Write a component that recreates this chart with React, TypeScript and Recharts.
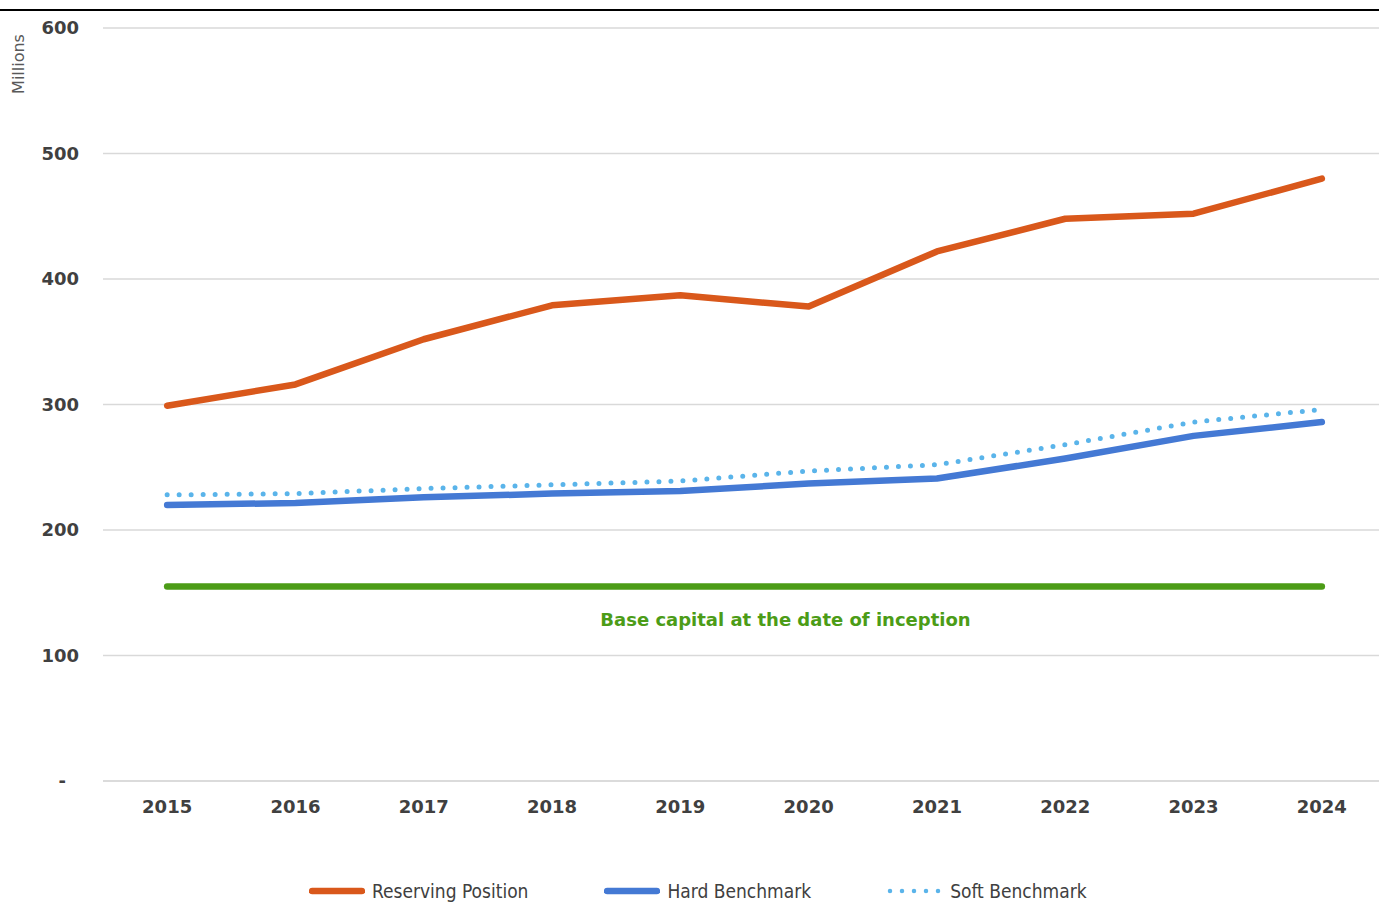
import React from 'react';
import { LineChart, Line, XAxis, YAxis, CartesianGrid, Legend, ReferenceLine } from 'recharts';

const years = ['2015', '2016', '2017', '2018', '2019', '2020', '2021', '2022', '2023', '2024'];
const reservingPosition = [299, 316, 352, 379, 387, 378, 422, 448, 452, 480];
const hardBenchmark = [220, 221.5, 226, 229, 231, 237, 241, 257, 275, 286];
const softBenchmark = [228, 229, 233, 236, 239, 247, 252, 268, 286, 296];
const baseCapital = [155, 155, 155, 155, 155, 155, 155, 155, 155, 155];
const yTicks = [0, 100, 200, 300, 400, 500, 600];
const baseCapitalLevel = 155;
const baseCapitalLabel = 'Base capital at the date of inception';
const yAxisTitle = 'Millions';

const data = years.map((year, i) => ({
  year,
  reserving: reservingPosition[i],
  hard: hardBenchmark[i],
  soft: softBenchmark[i],
  base: baseCapital[i],
}));

const ORANGE = '#D9581B';
const BLUE = '#4479D4';
const LIGHTBLUE = '#5AB4EA';
const GREEN = '#4C9C17';
const TEXT = '#404040';

const legendItems = [
  { key: 'reserving', label: 'Reserving Position', color: ORANGE, dash: undefined as string | undefined, width: 6.5 },
  { key: 'hard', label: 'Hard Benchmark', color: BLUE, dash: undefined as string | undefined, width: 6.5 },
  { key: 'soft', label: 'Soft Benchmark', color: LIGHTBLUE, dash: '0 12', width: 4.5 },
];

const YTick = (props: any) => {
  const { x, y, payload } = props;
  const isZero = payload.value === 0;
  return (
    <text
      x={isZero ? x - 13 : x}
      y={y}
      dy="0.36em"
      textAnchor="end"
      fill={TEXT}
      fontFamily="DejaVu Sans, Verdana, sans-serif"
      fontWeight="bold"
      fontSize={18}
    >
      {isZero ? '-' : payload.value}
    </text>
  );
};

const XTick = (props: any) => {
  const { x, y, payload } = props;
  return (
    <text
      x={x}
      y={y}
      dy="0.71em"
      textAnchor="middle"
      fill={TEXT}
      fontFamily="DejaVu Sans, Verdana, sans-serif"
      fontWeight="bold"
      fontSize={18}
    >
      {payload.value}
    </text>
  );
};

const YTitle = (props: any) => {
  const vb = props.viewBox || {};
  const cx = (vb.x || 0) + 18;
  const cy = (vb.y || 0) + 36;
  return (
    <text
      x={cx}
      y={cy}
      textAnchor="middle"
      dominantBaseline="central"
      transform={`rotate(-90 ${cx} ${cy})`}
      fill="#595959"
      fontFamily="DejaVu Sans, Verdana, sans-serif"
      fontSize={16}
    >
      {yAxisTitle}
    </text>
  );
};

const BaseLabel = (props: any) => {
  const vb = props.viewBox || {};
  const x = (vb.x || 0) + (vb.width || 0) / 2 + 41;
  const y = (vb.y || 0) + 33;
  return (
    <text
      x={x}
      y={y}
      dy="0.36em"
      textAnchor="middle"
      fill={GREEN}
      fontFamily="DejaVu Sans, Verdana, sans-serif"
      fontWeight="bold"
      fontSize={18}
    >
      {baseCapitalLabel}
    </text>
  );
};

const LegendContent = () => (
  <div
    style={{
      display: 'flex',
      alignItems: 'center',
      height: 22,
      paddingLeft: 309,
      gap: 76,
      fontFamily: '"DejaVu Sans Condensed", "Liberation Sans Narrow", sans-serif',
      fontSize: 19,
      color: TEXT,
      whiteSpace: 'nowrap',
    }}
  >
    {legendItems.map((item) => (
      <div key={item.key} style={{ display: 'flex', alignItems: 'center' }}>
        <svg width={56} height={10} style={{ marginRight: 7 }}>
          <line
            x1={3}
            y1={5}
            x2={53}
            y2={5}
            stroke={item.color}
            strokeWidth={item.width}
            strokeLinecap="round"
            strokeDasharray={item.dash}
          />
        </svg>
        <span>{item.label}</span>
      </div>
    ))}
  </div>
);

export default function App() {
  return (
    <div style={{ position: 'absolute', left: 0, top: 0, width: 1379, height: 902, overflow: 'hidden', background: '#fff' }}>
      <div style={{ position: 'absolute', left: 0, top: 9, width: 1379, height: 0, borderTop: '2px solid #000' }} />
      <div style={{ position: 'absolute', left: 0, top: 0 }}>
        <LineChart width={1400} height={902} data={data} margin={{ top: 28, right: 14, bottom: 49, left: 0 }}>
          <CartesianGrid vertical={false} stroke="#d9d9d9" strokeWidth={1.5} />
          <XAxis
            dataKey="year"
            scale="band"
            axisLine={{ stroke: '#d9d9d9', strokeWidth: 1.5 }}
            tickLine={false}
            tickSize={0}
            tickMargin={19}
            height={50}
            tick={<XTick />}
            interval={0}
          />
          <YAxis
            domain={[0, 600]}
            ticks={yTicks}
            width={103}
            axisLine={false}
            tickLine={false}
            tickSize={0}
            tickMargin={24}
            tick={<YTick />}
            label={<YTitle />}
          />
          <Legend verticalAlign="bottom" height={22} wrapperStyle={{ left: 0, bottom: 0, width: 1379, height: 22 }} content={<LegendContent />} />
          <ReferenceLine y={baseCapitalLevel} stroke="none" label={<BaseLabel />} />
          <Line dataKey="base" stroke={GREEN} strokeWidth={6.5} strokeLinecap="round" dot={false} legendType="none" isAnimationActive={false} />
          <Line dataKey="soft" stroke={LIGHTBLUE} strokeWidth={5} strokeDasharray="0 12" strokeLinecap="round" dot={false} isAnimationActive={false} />
          <Line dataKey="hard" stroke={BLUE} strokeWidth={6.5} strokeLinecap="round" strokeLinejoin="round" dot={false} isAnimationActive={false} />
          <Line dataKey="reserving" stroke={ORANGE} strokeWidth={6.5} strokeLinecap="round" strokeLinejoin="round" dot={false} isAnimationActive={false} />
        </LineChart>
      </div>
    </div>
  );
}
